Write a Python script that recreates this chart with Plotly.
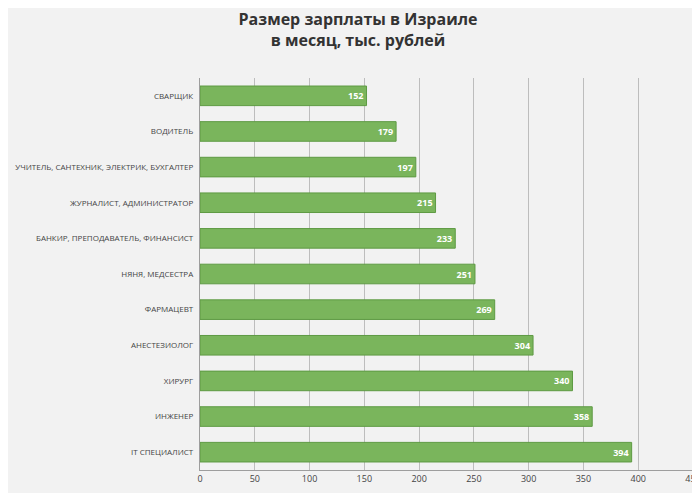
import plotly.graph_objects as go

jobs = ["СВАРЩИК", "ВОДИТЕЛЬ", "УЧИТЕЛЬ, САНТЕХНИК, ЭЛЕКТРИК, БУХГАЛТЕР",
        "ЖУРНАЛИСТ, АДМИНИСТРАТОР", "БАНКИР, ПРЕПОДАВАТЕЛЬ, ФИНАНСИСТ",
        "НЯНЯ, МЕДСЕСТРА", "ФАРМАЦЕВТ", "АНЕСТЕЗИОЛОГ", "ХИРУРГ", "ИНЖЕНЕР",
        "IT СПЕЦИАЛИСТ"]
salary = [152, 179, 197, 215, 233, 251, 269, 304, 340, 358, 394]

fig = go.Figure(go.Bar(
    x=salary, y=jobs, orientation="h",
    marker=dict(color="#7ab55c", line=dict(color="#5e9a43", width=1)),
    text=[f"<b>{v}</b>" for v in salary], textposition="inside",
    insidetextanchor="end",
    textfont=dict(color="white", size=9, family="Open Sans"),
    width=0.55,
))
fig.update_layout(
    width=700, height=493,
    paper_bgcolor="#f2f2f2", plot_bgcolor="#f2f2f2",
    margin=dict(l=192, r=15, t=70, b=31),
    title=dict(text="<b>Размер зарплаты в Израиле<br>в месяц, тыс. рублей</b>",
               x=0.5, y=0.965, yanchor="top",
               font=dict(size=16, color="#333333", family="Open Sans")),
    font=dict(family="Open Sans", color="#444444", size=8),
    showlegend=False,
    xaxis=dict(range=[0, 450], dtick=50, showgrid=True, gridcolor="#bdbdbd",
               zeroline=False, showline=True, linecolor="#9e9e9e",
               tickfont=dict(size=9), automargin=False),
    yaxis=dict(autorange="reversed", showline=True, linecolor="#9e9e9e",
               ticks="", tickfont=dict(size=8), ticksuffix="  ",
               automargin=False),
    uniformtext=dict(minsize=8, mode="show"),
)
fig.write_html("out.html")
